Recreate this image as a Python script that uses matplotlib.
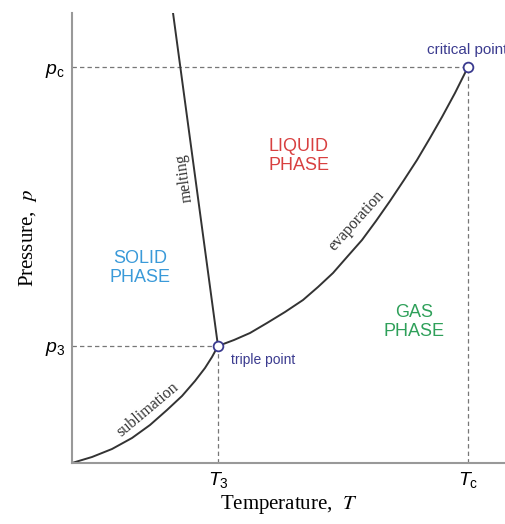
import matplotlib.pyplot as plt

plt.rcParams['mathtext.fontset'] = 'custom'
plt.rcParams['mathtext.rm'] = 'Liberation Sans'
plt.rcParams['mathtext.it'] = 'Liberation Sans:italic'

# key points (arbitrary units)
T3, p3 = 146, 117
Tc, pc = 396, 396

# phase boundaries
subl_T = [0, 20, 40, 60, 78, 95, 110, 123, 133, 140, 146]
subl_p = [0, 6, 14, 25, 38, 53, 67, 82, 95, 106, 117]

evap_T = [146, 162, 178, 195, 213, 231, 246, 261, 275, 290, 304, 318, 332, 345, 358, 370, 383, 396]
evap_p = [117, 123, 130, 140, 151, 163, 176, 190, 206, 223, 242, 262, 283, 303, 325, 346, 370, 396]

melt_T = [146, 99]
melt_p = [117, 465]

fig = plt.figure(figsize=(5.06, 5.24), dpi=100)
ax = fig.add_axes([72/506, 61/524, 434/506, 450/524])
ax.set_xlim(0, 434)
ax.set_ylim(0, 450)

line_col = '#333333'
dash_col = '#777777'
navy = '#3b3b8f'

# dashed guides
ax.plot([0, Tc], [pc, pc], ls=(0, (3.5, 2.5)), color=dash_col, lw=0.9)
ax.plot([Tc, Tc], [0, pc], ls=(0, (3.5, 2.5)), color=dash_col, lw=0.9)
ax.plot([0, T3], [p3, p3], ls=(0, (3.5, 2.5)), color=dash_col, lw=0.9)
ax.plot([T3, T3], [0, p3], ls=(0, (3.5, 2.5)), color=dash_col, lw=0.9)

# boundaries
ax.plot(subl_T, subl_p, color=line_col, lw=1.4, solid_joinstyle='round')
ax.plot(evap_T, evap_p, color=line_col, lw=1.4, solid_joinstyle='round')
ax.plot(melt_T, melt_p, color=line_col, lw=1.4)

# points
ax.plot([T3, Tc], [p3, pc], 'o', ms=7, mfc='white', mec=navy, mew=1.3, zorder=5)

# spines / ticks
for s in ['top', 'right']:
    ax.spines[s].set_visible(False)
for s in ['left', 'bottom']:
    ax.spines[s].set_color('#999999')
    ax.spines[s].set_linewidth(1.5)
ax.tick_params(length=0, labelsize=14, pad=5)
ax.set_xticks([T3, Tc])
ax.set_xticklabels([r'$\mathit{T}_3$', r'$\mathit{T}_\mathrm{c}$'])
ax.set_yticks([p3, pc])
ax.set_yticklabels([r'$\mathit{p}_3$', r'$\mathit{p}_\mathrm{c}$'])

serif = 'Liberation Serif'
ax.set_xlabel('Temperature,  $\\mathit{T}$', family=serif, fontsize=15, labelpad=2)
ax.set_ylabel('Pressure,  $\\mathit{p}$', family=serif, fontsize=15, labelpad=4)
ax.xaxis.label.set_math_fontfamily('stix')
ax.yaxis.label.set_math_fontfamily('stix')

# phase labels
sans = 'Liberation Sans'
ax.text(68, 195, 'SOLID\nPHASE', color='#3a9ad9', fontsize=13, family=sans,
        ha='center', va='center', linespacing=1.1)
ax.text(227, 307, 'LIQUID\nPHASE', color='#d84040', fontsize=13, family=sans,
        ha='center', va='center', linespacing=1.1)
ax.text(342, 141, 'GAS\nPHASE', color='#2fa05a', fontsize=13, family=sans,
        ha='center', va='center', linespacing=1.1)

# point labels
ax.text(T3 + 13, p3 - 14, 'triple point', color=navy, fontsize=10, family=sans,
        ha='left', va='center')
ax.text(Tc - 41, pc + 17, 'critical point', color=navy, fontsize=11, family=sans,
        ha='left', va='center', clip_on=False)

# boundary labels
ax.text(112, 285, 'melting', family=serif, fontsize=11.5, rotation=97.7,
        ha='center', va='center', color='#333333')
ax.text(285, 242, 'evaporation', family=serif, fontsize=11.5, rotation=48,
        ha='center', va='center', color='#333333')
ax.text(76, 53, 'sublimation', family=serif, fontsize=11.5, rotation=40,
        ha='center', va='center', color='#333333')

fig.savefig('out.png', dpi=100)
